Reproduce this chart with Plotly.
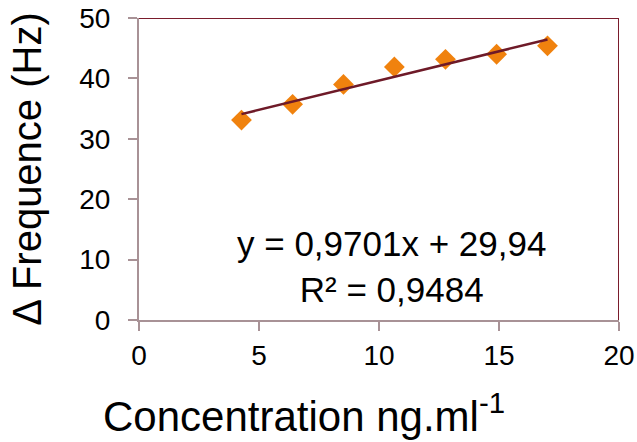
import plotly.graph_objects as go

conc = [4.27, 6.4, 8.52, 10.64, 12.77, 14.9, 17.02]
dfreq = [33.1, 35.7, 39.0, 41.9, 43.15, 44.0, 45.4]
slope = 0.9701
intercept = 29.94
r2 = 0.9484
x_ticks = [0, 5, 10, 15, 20]
y_ticks = [0, 10, 20, 30, 40, 50]

fit_x = [min(conc), max(conc)]
fit_y = [slope * v + intercept for v in fit_x]

FONT = "Liberation Sans, Arial, sans-serif"
AXC = "#a89296"
BORDER = "#7a1c2c"

fig = go.Figure()
fig.add_trace(go.Scatter(x=conc, y=dfreq, mode="markers",
                         marker=dict(symbol="diamond", size=16, color="#f0820e"),
                         showlegend=False))
fig.add_trace(go.Scatter(x=fit_x, y=fit_y, mode="lines",
                         line=dict(color="#6e1a28", width=2.5),
                         showlegend=False))

fig.update_layout(
    width=637, height=442,
    margin=dict(l=139, r=18, t=18, b=122),
    paper_bgcolor="white", plot_bgcolor="white",
    font=dict(family=FONT, color="black"),
    xaxis=dict(range=[0, 20], tickvals=x_ticks, showgrid=False, zeroline=False,
               showline=True, linecolor=AXC, linewidth=2, automargin=False,
               ticks="outside", ticklen=9, tickwidth=2, tickcolor=AXC,
               tickfont=dict(size=28, family=FONT)),
    yaxis=dict(range=[0, 50], tickvals=y_ticks, showgrid=False, zeroline=False,
               showline=True, linecolor=AXC, linewidth=2, automargin=False,
               ticks="outside", ticklen=9, tickwidth=2, tickcolor=AXC,
               ticklabelstandoff=12,
               tickfont=dict(size=28, family=FONT),
               title=dict(text="Δ Frequence (Hz)", font=dict(size=40, family=FONT), standoff=25)),
    shapes=[
        dict(type="line", xref="x", yref="y", x0=0, x1=20, y0=50, y1=50,
             line=dict(color=BORDER, width=2)),
        dict(type="line", xref="x", yref="y", x0=20, x1=20, y0=0, y1=50,
             line=dict(color=BORDER, width=2)),
    ],
    annotations=[
        dict(text=f"y = {str(slope).replace('.', ',')}x + {str(intercept).replace('.', ',')}<br>R² = {str(r2).replace('.', ',')}",
             xref="paper", yref="paper", x=0.525, y=0.177, xanchor="center", yanchor="middle",
             showarrow=False, align="center", font=dict(size=35, family=FONT)),
        dict(text="Concentration ng.ml<sup>-1</sup>", xref="paper", yref="paper",
             x=(304 - 139) / 480, y=-(413 - 320) / 302, xanchor="center", yanchor="middle",
             showarrow=False, font=dict(size=42, family=FONT)),
    ],
)
fig.write_html("out.html", config={"displayModeBar": False},
               post_script="document.body.style.margin='0';document.body.style.overflow='hidden';")
